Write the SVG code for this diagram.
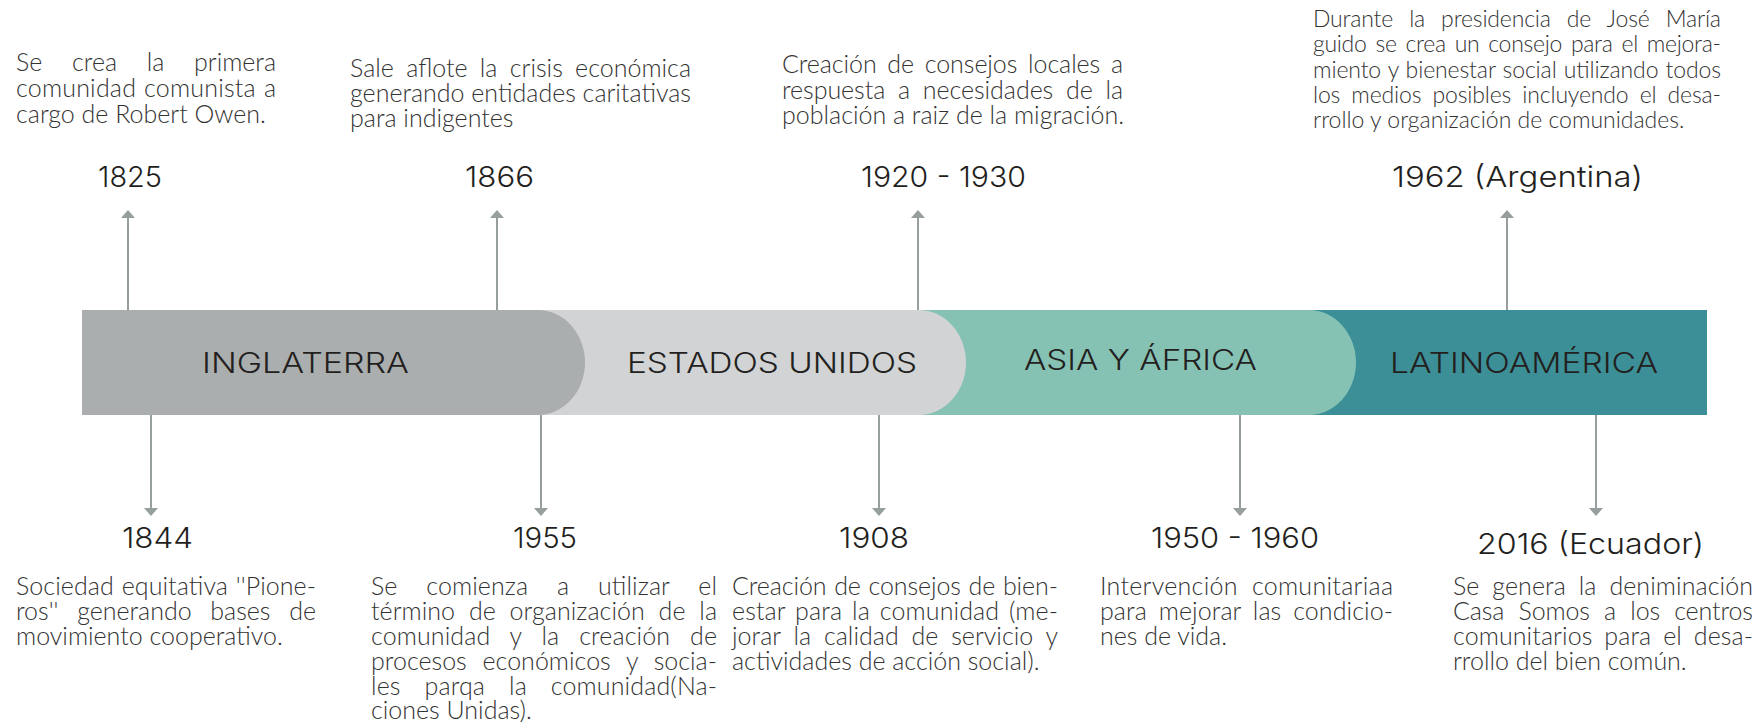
<svg xmlns="http://www.w3.org/2000/svg" width="1764" height="722" viewBox="0 0 1764 722">
<style>
.desc{font-family:"Lato","Liberation Sans",sans-serif;font-weight:300;font-size:25px;fill:#333333}
.small{font-size:23px}
.year{font-family:"Inter","DejaVu Sans",sans-serif;font-weight:300;font-size:29px;fill:#231f20}
.band{font-family:"Inter","DejaVu Sans",sans-serif;font-weight:300;font-size:28px;fill:#231f20}
.conn{stroke:#979e9e;stroke-width:2;fill:none;marker-end:url(#ah)}
</style>
<defs>
<marker id="ah" markerUnits="userSpaceOnUse" markerWidth="8" markerHeight="14" viewBox="0 0 8 14" refX="2" refY="7" orient="auto"><path d="M0,0 L8,7 L0,14 z" fill="#979e9e"/></marker>
</defs>
<rect width="1764" height="722" fill="#ffffff"/>
<g id="band">
<g id="latinoamerica"><rect x="1300" y="310" width="407" height="105" fill="#3c8f96"/><text class="band" x="1390" y="373" textLength="268" lengthAdjust="spacingAndGlyphs">LATINOAMÉRICA</text></g>
<g id="asia-africa"><path d="M900,310 H1309 A47,52.5 0 0 1 1356,362.5 A47,52.5 0 0 1 1309,415 H900 Z" fill="#86c2b3"/><text class="band" x="1024" y="370" textLength="233" lengthAdjust="spacingAndGlyphs">ASIA Y ÁFRICA</text></g>
<g id="estados-unidos"><path d="M500,310 H919 A47,52.5 0 0 1 966,362.5 A47,52.5 0 0 1 919,415 H500 Z" fill="#d1d3d4"/><text class="band" x="627" y="373" textLength="290" lengthAdjust="spacingAndGlyphs">ESTADOS UNIDOS</text></g>
<g id="inglaterra"><path d="M82,310 H538 A47,52.5 0 0 1 585,362.5 A47,52.5 0 0 1 538,415 H82 Z" fill="#abaeae"/><text class="band" x="202" y="373" textLength="207" lengthAdjust="spacingAndGlyphs">INGLATERRA</text></g>
</g>
<g id="connectors">
<line class="conn" x1="128" y1="310" x2="128" y2="216"/>
<line class="conn" x1="497" y1="310" x2="497" y2="216"/>
<line class="conn" x1="918" y1="310" x2="918" y2="216"/>
<line class="conn" x1="1507" y1="310" x2="1507" y2="216"/>
<line class="conn" x1="151" y1="415" x2="151" y2="510"/>
<line class="conn" x1="541" y1="415" x2="541" y2="510"/>
<line class="conn" x1="879" y1="415" x2="879" y2="510"/>
<line class="conn" x1="1240" y1="415" x2="1240" y2="510"/>
<line class="conn" x1="1596" y1="415" x2="1596" y2="510"/>
</g>
<g id="ev-1825">
<text class="year" x="98" y="187" textLength="64" lengthAdjust="spacingAndGlyphs">1825</text>
<text class="desc"><tspan x="16" y="70.5" word-spacing="23" textLength="260" lengthAdjust="spacing">Se crea la primera</tspan><tspan x="16" y="97" word-spacing="1" textLength="260" lengthAdjust="spacing">comunidad comunista a</tspan><tspan x="16" y="123">cargo de Robert Owen.</tspan></text>
</g>
<g id="ev-1866">
<text class="year" x="465" y="187" textLength="69" lengthAdjust="spacingAndGlyphs">1866</text>
<text class="desc"><tspan x="350" y="77" word-spacing="5.5" textLength="341" lengthAdjust="spacing">Sale aflote la crisis económica</tspan><tspan x="350" y="102" textLength="341" lengthAdjust="spacing">generando entidades caritativas</tspan><tspan x="350" y="127">para indigentes</tspan></text>
</g>
<g id="ev-1920">
<text class="year" x="861" y="187" textLength="165" lengthAdjust="spacingAndGlyphs">1920 - 1930</text>
<text class="desc"><tspan x="782" y="72.5" word-spacing="4" textLength="341" lengthAdjust="spacing">Creación de consejos locales a</tspan><tspan x="782" y="98.5" word-spacing="6" textLength="341" lengthAdjust="spacing">respuesta a necesidades de la</tspan><tspan x="782" y="123.5">población a raiz de la migración.</tspan></text>
</g>
<g id="ev-1962">
<text class="year" x="1392" y="187" textLength="251" lengthAdjust="spacingAndGlyphs">1962 (Argentina)</text>
<text class="desc small"><tspan x="1313" y="26.5" word-spacing="10" textLength="408" lengthAdjust="spacing">Durante la presidencia de José María</tspan><tspan x="1313" y="52" word-spacing="3" textLength="408" lengthAdjust="spacing">guido se crea un consejo para el mejora-</tspan><tspan x="1313" y="77.5" word-spacing="1" textLength="408" lengthAdjust="spacing">miento y bienestar social utilizando todos</tspan><tspan x="1313" y="103" word-spacing="5" textLength="408" lengthAdjust="spacing">los medios posibles incluyendo el desa-</tspan><tspan x="1313" y="128">rrollo y organización de comunidades.</tspan></text>
</g>
<g id="ev-1844">
<text class="year" x="122" y="548" textLength="71" lengthAdjust="spacingAndGlyphs">1844</text>
<text class="desc"><tspan x="16" y="595" word-spacing="1" textLength="300" lengthAdjust="spacing">Sociedad equitativa ''Pione-</tspan><tspan x="16" y="620" word-spacing="12" textLength="300" lengthAdjust="spacing">ros'' generando bases de</tspan><tspan x="16" y="645">movimiento cooperativo.</tspan></text>
</g>
<g id="ev-1955">
<text class="year" x="513" y="548" textLength="64" lengthAdjust="spacingAndGlyphs">1955</text>
<text class="desc"><tspan x="371" y="595" word-spacing="22" textLength="346" lengthAdjust="spacing">Se comienza a utilizar el</tspan><tspan x="371" y="620" word-spacing="7" textLength="346" lengthAdjust="spacing">término de organización de la</tspan><tspan x="371" y="645" word-spacing="13" textLength="346" lengthAdjust="spacing">comunidad y la creación de</tspan><tspan x="371" y="670" word-spacing="9" textLength="346" lengthAdjust="spacing">procesos económicos y socia-</tspan><tspan x="371" y="695" word-spacing="17" textLength="346" lengthAdjust="spacing">les parqa la comunidad(Na-</tspan><tspan x="371" y="719">ciones Unidas).</tspan></text>
</g>
<g id="ev-1908">
<text class="year" x="839" y="548" textLength="70" lengthAdjust="spacingAndGlyphs">1908</text>
<text class="desc"><tspan x="732" y="595" word-spacing="1" textLength="326" lengthAdjust="spacing">Creación de consejos de bien-</tspan><tspan x="732" y="620" word-spacing="3" textLength="326" lengthAdjust="spacing">estar para la comunidad (me-</tspan><tspan x="732" y="645" word-spacing="6" textLength="326" lengthAdjust="spacing">jorar la calidad de servicio y</tspan><tspan x="732" y="670">actividades de acción social).</tspan></text>
</g>
<g id="ev-1950">
<text class="year" x="1151" y="548" textLength="168" lengthAdjust="spacingAndGlyphs">1950 - 1960</text>
<text class="desc"><tspan x="1100" y="595" word-spacing="7" textLength="293" lengthAdjust="spacing">Intervención comunitariaa</tspan><tspan x="1100" y="620" word-spacing="5" textLength="293" lengthAdjust="spacing">para mejorar las condicio-</tspan><tspan x="1100" y="645">nes de vida.</tspan></text>
</g>
<g id="ev-2016">
<text class="year" x="1477" y="554" textLength="227" lengthAdjust="spacingAndGlyphs">2016 (Ecuador)</text>
<text class="desc"><tspan x="1453" y="595" word-spacing="6" textLength="300" lengthAdjust="spacing">Se genera la deniminación</tspan><tspan x="1453" y="620" word-spacing="7.5" textLength="300" lengthAdjust="spacing">Casa Somos a los centros</tspan><tspan x="1453" y="645" word-spacing="5" textLength="300" lengthAdjust="spacing">comunitarios para el desa-</tspan><tspan x="1453" y="670">rrollo del bien común.</tspan></text>
</g>
</svg>
